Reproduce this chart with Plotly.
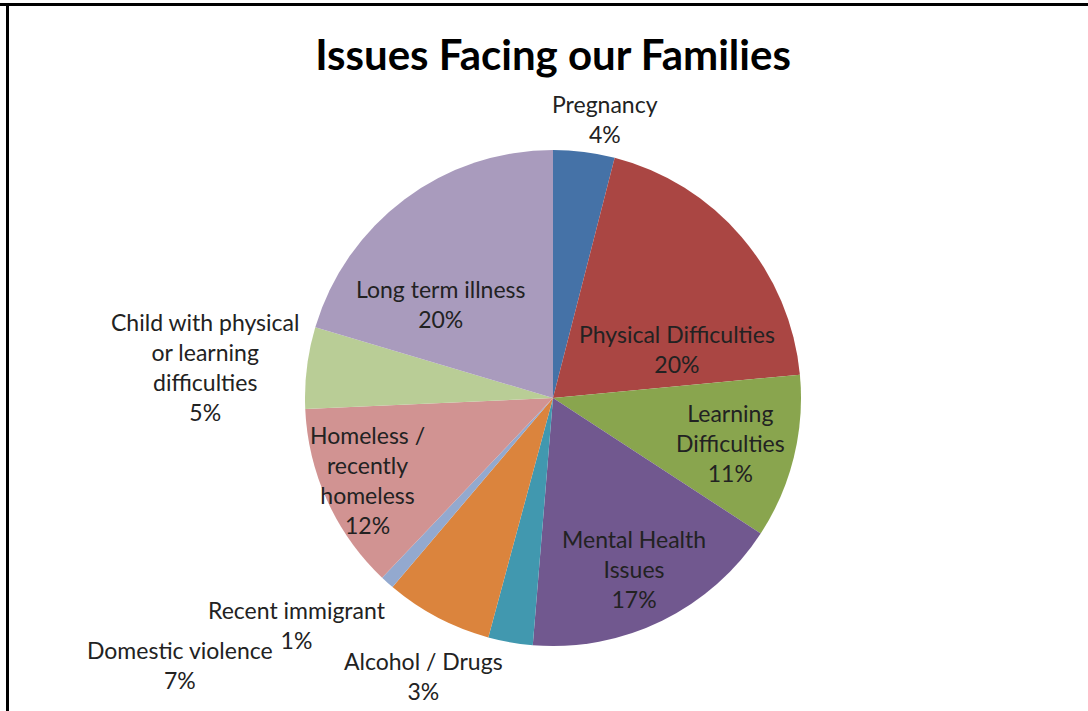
import plotly.graph_objects as go

# Data (slice sizes; labels as printed on the chart)
categories = ["Pregnancy", "Physical Difficulties", "Learning Difficulties",
              "Mental Health Issues", "Alcohol / Drugs", "Domestic violence",
              "Recent immigrant", "Homeless / recently homeless",
              "Child with physical or learning difficulties", "Long term illness"]
values = [4.0, 19.5, 10.7, 17.1, 2.9, 7.0, 0.9, 12.2, 5.3, 20.4]
pct_labels = [4, 20, 11, 17, 3, 7, 1, 12, 5, 20]
display_labels = ["Pregnancy", "Physical Difficulties", "Learning<br>Difficulties",
                  "Mental Health<br>Issues", "Alcohol / Drugs", "Domestic violence",
                  "Recent immigrant", "Homeless /<br>recently<br>homeless",
                  "Child with physical<br>or learning<br>difficulties", "Long term illness"]
colors = ["#4572A7", "#AA4643", "#89A54E", "#71588F", "#4198AF",
          "#DB843D", "#93A9CF", "#D19392", "#B9CD96", "#A99BBD"]

FONT = "Lato, 'Open Sans', sans-serif"
W, H = 1088, 711

# Label placement (pixel centres of each label block, Excel-style layout)
label_xy = [(605, 119), (677, 349), (730, 443), (634, 569), (423, 676),
            (180, 665), (297, 625), (367, 480), (205, 367), (441, 304)]

fig = go.Figure(go.Pie(
    labels=categories,
    values=values,
    sort=False,
    direction="clockwise",
    rotation=0,
    marker=dict(colors=colors, line=dict(width=0)),
    textinfo="none",
    hoverinfo="label+percent",
    showlegend=False,
    domain=dict(x=[305 / W, 801 / W], y=[(H - 646) / H, (H - 150) / H]),
))

for lab, pct, (px, py) in zip(display_labels, pct_labels, label_xy):
    fig.add_annotation(x=px / W, y=1 - py / H, xref="paper", yref="paper",
                       text=f"{lab}<br>{pct}%", showarrow=False,
                       xanchor="center", yanchor="middle",
                       font=dict(family=FONT, size=23, color="#222222"))

# Frame lines (top and left)
fig.add_shape(type="line", xref="paper", yref="paper", x0=0, x1=1, y0=1 - 4.5 / H, y1=1 - 4.5 / H,
              line=dict(color="black", width=3))
fig.add_shape(type="line", xref="paper", yref="paper", x0=7.5 / W, x1=7.5 / W, y0=0, y1=1 - 3 / H,
              line=dict(color="black", width=3))

fig.update_layout(
    width=W, height=H,
    margin=dict(l=0, r=0, t=0, b=0),
    paper_bgcolor="white",
    plot_bgcolor="white",
    title=dict(text="<b>Issues Facing our Families</b>", x=553 / W, xanchor="center",
               y=1 - 55 / H, yanchor="middle",
               font=dict(family=FONT, size=42, color="#000000")),
)

fig.write_html("out.html", config={"displayModeBar": False},
               post_script="document.body.style.margin='0';document.body.style.overflow='hidden';")
